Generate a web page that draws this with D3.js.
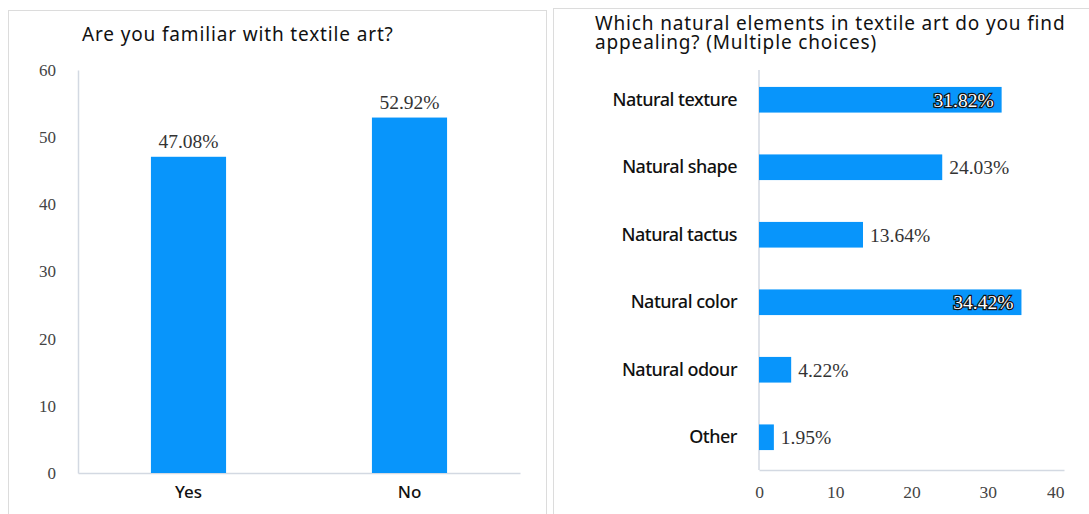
<!DOCTYPE html>
<html>
<head>
<meta charset="utf-8">
<script src="https://cdn.jsdelivr.net/npm/d3@7"></script>
<style>
  html, body { margin: 0; padding: 0; background: #fff; }
  svg { display: block; }
</style>
</head>
<body>
<svg id="chart" width="1089" height="514"></svg>
<script>
// Survey results: familiarity with textile art
const familiarCategories = ["Yes", "No"];
const familiarValues = [47.08, 52.92];
const familiarTicks = [0, 10, 20, 30, 40, 50, 60];

// Survey results: appealing natural elements (multiple choices)
const elementCategories = ["Natural texture", "Natural shape", "Natural tactus", "Natural color", "Natural odour", "Other"];
const elementValues = [31.82, 24.03, 13.64, 34.42, 4.22, 1.95];
const elementTicks = [0, 10, 20, 30, 40];

const barColor = "#0895fb";
const axisColor = "#d3d9e2";
const sansFont = "'Noto Sans', 'Open Sans', sans-serif";
const serifFont = "'Liberation Serif', 'DejaVu Serif', serif";

const svg = d3.select("#chart");

// panel frames
svg.append("rect").attr("x", 8.5).attr("y", 10.5).attr("width", 538).attr("height", 520)
  .attr("fill", "none").attr("stroke", "#dcdcdc");
svg.append("rect").attr("x", 553.5).attr("y", 8.5).attr("width", 545).attr("height", 520)
  .attr("fill", "none").attr("stroke", "#dcdcdc");

function styleTitle(sel) {
  sel.attr("font-family", sansFont).attr("font-size", 19).attr("letter-spacing", 0.85).attr("fill", "#111");
}

// ---------- Left: vertical bar chart ----------
{
  const x = d3.scaleBand().domain(familiarCategories).range([78, 520]).paddingInner(0.66).paddingOuter(0.33);
  const y = d3.scaleLinear().domain([0, 60]).range([473, 70]);
  const g = svg.append("g");

  g.append("text").attr("x", 82).attr("y", 41).call(styleTitle)
    .text("Are you familiar with textile art?");

  // y axis
  const ya = g.append("g").attr("transform", "translate(78,0)")
    .call(d3.axisLeft(y).tickValues(familiarTicks).tickSize(0).tickPadding(22));
  ya.select(".domain").attr("stroke", axisColor).attr("stroke-width", 1.5);
  ya.selectAll("text").attr("font-family", serifFont).attr("font-size", 17).attr("fill", "#444");

  // x axis
  const xa = g.append("g").attr("transform", "translate(0,473)")
    .call(d3.axisBottom(x).tickSize(0).tickPadding(13));
  xa.select(".domain").attr("stroke", axisColor).attr("stroke-width", 1.5);
  xa.selectAll("text").attr("font-family", sansFont).attr("font-size", 17).attr("font-weight", 500).attr("fill", "#111");

  g.selectAll("rect.bar").data(familiarValues).join("rect").attr("class", "bar")
    .attr("x", (d, i) => x(familiarCategories[i]))
    .attr("width", x.bandwidth())
    .attr("y", d => y(d))
    .attr("height", d => y(0) - y(d))
    .attr("fill", barColor);

  g.selectAll("text.val").data(familiarValues).join("text").attr("class", "val")
    .attr("x", (d, i) => x(familiarCategories[i]) + x.bandwidth() / 2)
    .attr("y", d => y(d) - 9)
    .attr("text-anchor", "middle")
    .attr("font-family", serifFont).attr("font-size", 19.5).attr("fill", "#333")
    .text(d => d.toFixed(2) + "%");
}

// ---------- Right: horizontal bar chart ----------
{
  const x = d3.scaleLinear().domain([0, 40]).range([759, 1064]);
  const y = d3.scaleBand().domain(elementCategories).range([66, 471]).paddingInner(0.62).paddingOuter(0.31);
  const baseY = 470;
  const g = svg.append("g");

  const title = g.append("text").call(styleTitle);
  title.append("tspan").attr("x", 595).attr("y", 30).text("Which natural elements in textile art do you find");
  title.append("tspan").attr("x", 595).attr("y", 49).text("appealing? (Multiple choices)");

  const ya = g.append("g").attr("transform", `translate(${x(0)},0)`)
    .call(d3.axisLeft(y).tickSize(0).tickPadding(22));
  ya.select(".domain").remove();
  ya.selectAll("text").attr("font-family", sansFont).attr("font-size", 18).attr("font-weight", 500)
    .attr("letter-spacing", -0.5).attr("fill", "#111");
  g.append("line").attr("x1", x(0)).attr("x2", x(0)).attr("y1", 70).attr("y2", baseY)
    .attr("stroke", axisColor).attr("stroke-width", 1.5);

  const xa = g.append("g").attr("transform", `translate(0,${baseY})`)
    .call(d3.axisBottom(x).tickValues(elementTicks).tickSize(0).tickPadding(16));
  xa.select(".domain").attr("stroke", axisColor).attr("stroke-width", 1.5);
  xa.selectAll("text").attr("font-family", serifFont).attr("font-size", 17.5).attr("fill", "#444")
    .attr("text-anchor", d => d === 40 ? "end" : "middle");

  g.selectAll("rect.bar").data(elementValues).join("rect").attr("class", "bar")
    .attr("x", x(0))
    .attr("y", (d, i) => y(elementCategories[i]))
    .attr("height", y.bandwidth())
    .attr("width", d => x(d) - x(0))
    .attr("fill", barColor);

  // labels: the two longest bars carry their value inside, outlined
  const inside = d => d > 30;
  g.selectAll("text.val").data(elementValues).join("text").attr("class", "val")
    .attr("x", d => inside(d) ? x(d) - 8 : x(d) + 7)
    .attr("y", (d, i) => y(elementCategories[i]) + y.bandwidth() / 2)
    .attr("dy", "0.35em")
    .attr("text-anchor", d => inside(d) ? "end" : "start")
    .attr("font-family", serifFont).attr("font-size", 19.5)
    .attr("fill", d => inside(d) ? "#fff" : "#333")
    .attr("stroke", d => inside(d) ? "#111" : "none")
    .attr("stroke-width", d => inside(d) ? 2.4 : 0)
    .attr("paint-order", "stroke")
    .text(d => d.toFixed(2) + "%");
}
</script>
</body>
</html>
